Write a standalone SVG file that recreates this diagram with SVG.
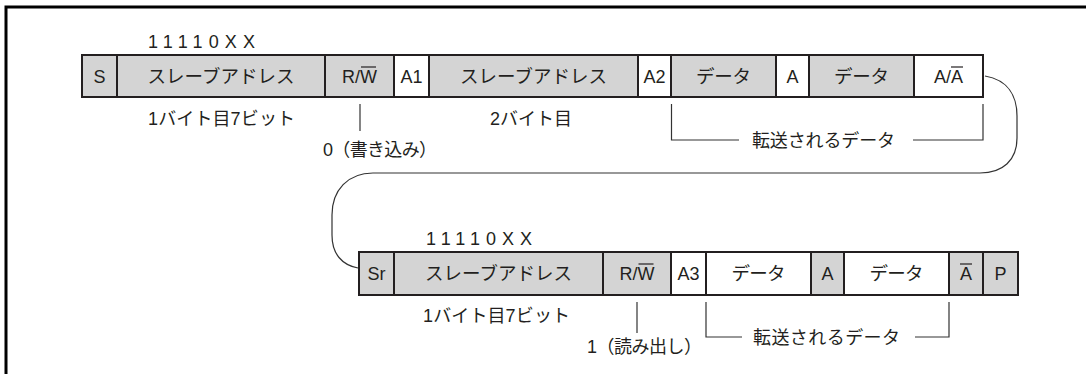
<svg xmlns="http://www.w3.org/2000/svg" width="1086" height="374" viewBox="0 0 1086 374">
<style>
  text { font-family: "Liberation Sans", "Noto Sans CJK JP", sans-serif; font-size: 18px; fill: #231f20; }
  .mid { text-anchor: middle; }
  .bx { font-size: 18px; }
  .jp { font-size: 18.5px; }
  .g { fill: #d4d4d4; stroke: #231f20; stroke-width: 2; }
  .w { fill: #ffffff; stroke: #231f20; stroke-width: 2; }
  .ln { fill: none; stroke: #333333; stroke-width: 1.2; }
  .ov { stroke: #231f20; stroke-width: 1.2; }
  .frame { fill: none; stroke: #000000; stroke-width: 3; }
</style>
<rect width="1086" height="374" fill="#ffffff"/>
<path class="frame" d="M6 374 L6 7 L1086 7"/>

<g id="row1">
  <g id="r1-S"><rect class="g" x="82" y="55" width="35" height="42"/><text class="mid bx" x="99.5" y="83">S</text></g>
  <g id="r1-addr1"><rect class="g" x="117" y="55" width="208" height="42"/><text class="mid jp" x="221" y="83" textLength="147" lengthAdjust="spacing">スレーブアドレス</text></g>
  <g id="r1-RW"><rect class="g" x="325" y="55" width="69" height="42"/><text class="mid bx" x="359.5" y="83">R/W</text><line class="ov" x1="361" y1="67" x2="376" y2="67"/></g>
  <g id="r1-A1"><rect class="w" x="394" y="55" width="35" height="42"/><text class="mid bx" x="411.5" y="83">A1</text></g>
  <g id="r1-addr2"><rect class="g" x="429" y="55" width="209" height="42"/><text class="mid jp" x="533.5" y="83" textLength="147" lengthAdjust="spacing">スレーブアドレス</text></g>
  <g id="r1-A2"><rect class="w" x="638" y="55" width="33" height="42"/><text class="mid bx" x="654.5" y="83">A2</text></g>
  <g id="r1-data1"><rect class="g" x="671" y="55" width="105" height="42"/><text class="mid jp" x="723.5" y="83" textLength="55" lengthAdjust="spacing">データ</text></g>
  <g id="r1-A"><rect class="w" x="776" y="55" width="33" height="42"/><text class="mid bx" x="792.5" y="83">A</text></g>
  <g id="r1-data2"><rect class="g" x="809" y="55" width="105" height="42"/><text class="mid jp" x="861.5" y="83" textLength="55" lengthAdjust="spacing">データ</text></g>
  <g id="r1-AA"><rect class="w" x="914" y="55" width="69" height="42"/><text class="mid bx" x="948.5" y="83">A/A</text><line class="ov" x1="951" y1="67" x2="963" y2="67"/></g>
</g>

<g id="row2">
  <g id="r2-Sr"><rect class="g" x="359" y="252" width="35" height="43"/><text class="mid bx" x="376.5" y="280">Sr</text></g>
  <g id="r2-addr"><rect class="g" x="394" y="252" width="209" height="43"/><text class="mid jp" x="498.5" y="280" textLength="147" lengthAdjust="spacing">スレーブアドレス</text></g>
  <g id="r2-RW"><rect class="g" x="603" y="252" width="68" height="43"/><text class="mid bx" x="637" y="280">R/W</text><line class="ov" x1="638.5" y1="264" x2="653.5" y2="264"/></g>
  <g id="r2-A3"><rect class="w" x="671" y="252" width="35" height="43"/><text class="mid bx" x="688.5" y="280">A3</text></g>
  <g id="r2-data1"><rect class="w" x="706" y="252" width="105" height="43"/><text class="mid jp" x="758.5" y="280" textLength="54" lengthAdjust="spacing">データ</text></g>
  <g id="r2-A"><rect class="g" x="811" y="252" width="33" height="43"/><text class="mid bx" x="827.5" y="280">A</text></g>
  <g id="r2-data2"><rect class="w" x="844" y="252" width="105" height="43"/><text class="mid jp" x="896.5" y="280" textLength="54" lengthAdjust="spacing">データ</text></g>
  <g id="r2-NA"><rect class="g" x="949" y="252" width="34" height="43"/><text class="mid bx" x="966" y="280">A</text><line class="ov" x1="960" y1="264" x2="972" y2="264"/></g>
  <g id="r2-P"><rect class="g" x="983" y="252" width="35" height="43"/><text class="mid bx" x="1000.5" y="280">P</text></g>
</g>

<g id="labels">
  <text x="148" y="48" textLength="107" lengthAdjust="spacing">11110XX</text>
  <text x="148" y="125" textLength="147" lengthAdjust="spacing">1バイト目7ビット</text>
  <text x="490" y="125" textLength="82" lengthAdjust="spacing">2バイト目</text>
  <text x="323" y="156" textLength="114" lengthAdjust="spacing">0（書き込み）</text>
  <text x="752" y="147" textLength="143" lengthAdjust="spacing">転送されるデータ</text>
  <text x="426" y="245" textLength="106" lengthAdjust="spacing">11110XX</text>
  <text x="423" y="322" textLength="147" lengthAdjust="spacing">1バイト目7ビット</text>
  <text x="587" y="353" textLength="115" lengthAdjust="spacing">1（読み出し）</text>
  <text x="753" y="344" textLength="147" lengthAdjust="spacing">転送されるデータ</text>
</g>

<g id="connectors">
  <line class="ln" x1="360" y1="104" x2="360" y2="131"/>
  <path class="ln" d="M671.5 104 L671.5 140 L739 140"/>
  <path class="ln" d="M913 140 L983 140 L983 104"/>
  <line class="ln" x1="637" y1="302" x2="637" y2="333"/>
  <path class="ln" d="M706 302 L706 337 L742 337"/>
  <path class="ln" d="M915 337 L949 337 L949 302"/>
  <path class="ln" d="M985 76 C1008 80 1017 96 1017 116 L1017 138 C1017 160 1003 173 980 173 L373 173 C348 173 332 190 332 215 L332 235 C332 254 342 265 358 268"/>
</g>
</svg>
